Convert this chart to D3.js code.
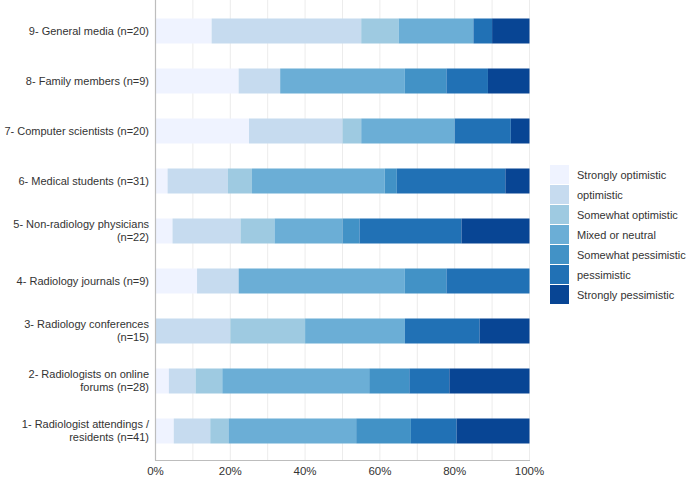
<!DOCTYPE html>
<html>
<head>
<meta charset="utf-8">
<script src="https://cdn.jsdelivr.net/npm/d3@7"></script>
<style>
  html, body { margin: 0; padding: 0; background: #fff; }
  svg { display: block; font-family: "Liberation Sans", Arial, sans-serif; }
</style>
</head>
<body>
<svg id="chart" width="689" height="479"></svg>
<script>
// Categories (top to bottom), each label split into lines
const categories = [
  ["9- General media (n=20)"],
  ["8- Family members (n=9)"],
  ["7- Computer scientists (n=20)"],
  ["6- Medical students (n=31)"],
  ["5- Non-radiology physicians", "(n=22)"],
  ["4- Radiology journals (n=9)"],
  ["3- Radiology conferences", "(n=15)"],
  ["2- Radiologists on online", "forums (n=28)"],
  ["1- Radiologist attendings /", "residents (n=41)"]
];
const sampleSizes = [20, 9, 20, 31, 22, 9, 15, 28, 41];

const seriesNames = [
  "Strongly optimistic", "optimistic", "Somewhat optimistic", "Mixed or neutral",
  "Somewhat pessimistic", "pessimistic", "Strongly pessimistic"
];

// Response counts per category (same order as categories), per series
const counts = [
  [3, 8, 2, 4, 0, 1, 2],
  [2, 1, 0, 3, 1, 1, 1],
  [5, 5, 1, 5, 0, 3, 1],
  [1, 5, 2, 11, 1, 9, 2],
  [1, 4, 2, 4, 1, 6, 4],
  [1, 1, 0, 4, 1, 2, 0],
  [0, 3, 3, 4, 0, 3, 2],
  [1, 2, 2, 11, 3, 3, 6],
  [2, 4, 2, 14, 6, 5, 8]
];

const xTicks = [0, 0.2, 0.4, 0.6, 0.8, 1.0];
const gridTicks = [0.1, 0.2, 0.3, 0.4, 0.5, 0.6, 0.7, 0.8, 0.9, 1.0];
const colors = ["#eff3ff", "#c6dbef", "#9ecae1", "#6baed6", "#4292c6", "#2171b5", "#084594"];

const svg = d3.select("#chart");

const x = d3.scaleLinear().domain([0, 1]).range([155.5, 529.5]);
const y = d3.scaleBand().domain(d3.range(categories.length)).range([1, 461])
  .paddingInner(0.5).paddingOuter(0.35);
const color = d3.scaleOrdinal().domain(seriesNames).range(colors);

// table of proportions
const table = counts.map((row, i) => {
  const o = { idx: i };
  seriesNames.forEach((s, j) => { o[s] = row[j] / sampleSizes[i]; });
  return o;
});
const stacked = d3.stack().keys(seriesNames)(table);

// gridlines
svg.append("g").selectAll("line").data(gridTicks).join("line")
  .attr("x1", d => x(d)).attr("x2", d => x(d))
  .attr("y1", 0).attr("y2", 460)
  .attr("stroke", "#ececec").attr("stroke-width", 1);

// bars
svg.append("g").selectAll("g").data(stacked).join("g")
  .attr("fill", d => color(d.key))
  .selectAll("rect").data(d => d).join("rect")
  .attr("x", d => x(d[0]))
  .attr("width", d => Math.max(0, x(d[1]) - x(d[0])))
  .attr("y", d => y(d.data.idx))
  .attr("height", y.bandwidth());

// axis lines
svg.append("line").attr("x1", 155.5).attr("x2", 155.5).attr("y1", 0).attr("y2", 460.5)
  .attr("stroke", "#bdbdbd").attr("stroke-width", 1.2);
svg.append("line").attr("x1", 155).attr("x2", 530).attr("y1", 460.5).attr("y2", 460.5)
  .attr("stroke", "#bdbdbd").attr("stroke-width", 1.2);

// x tick labels
svg.append("g").selectAll("text").data(xTicks).join("text")
  .attr("x", d => x(d)).attr("y", 471)
  .attr("text-anchor", "middle").attr("dominant-baseline", "central")
  .attr("font-size", 11.5).attr("fill", "#333")
  .text(d3.format(".0%"));

// y labels
const lineH = 13;
const yl = svg.append("g").selectAll("text").data(categories).join("text")
  .attr("text-anchor", "end").attr("font-size", 11).attr("fill", "#333");
yl.each(function(d, i) {
  const cy = y(i) + y.bandwidth() / 2;
  const n = d.length;
  d3.select(this).selectAll("tspan").data(d).join("tspan")
    .attr("x", 149)
    .attr("y", (t, k) => cy + (k - (n - 1) / 2) * lineH)
    .attr("dy", "0.35em")
    .text(t => t);
});

// legend
const lg = svg.append("g").selectAll("g").data(seriesNames).join("g")
  .attr("transform", (d, i) => `translate(550, ${165 + i * 20})`);
lg.append("rect").attr("width", 19).attr("height", 19).attr("fill", d => color(d));
lg.append("text").attr("x", 27).attr("y", 10).attr("dy", "0.35em")
  .attr("font-size", 11).attr("fill", "#333").text(d => d);
</script>
</body>
</html>
